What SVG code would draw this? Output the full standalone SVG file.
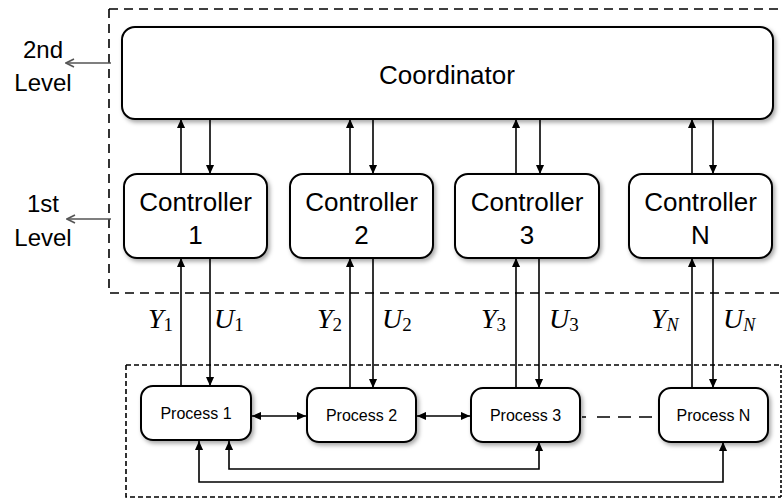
<svg xmlns="http://www.w3.org/2000/svg" width="783" height="500" viewBox="0 0 783 500">
  <style>
    .box { fill: #fff; stroke: #000; stroke-width: 2; filter: url(#shadow); }
    .big { font-family: "Liberation Sans", Arial, sans-serif; font-size: 26px; fill: #000; text-anchor: middle; }
    .small { font-family: "Liberation Sans", Arial, sans-serif; font-size: 16px; fill: #000; text-anchor: middle; }
    .math { font-family: "Liberation Serif", "Times New Roman", serif; font-style: italic; font-size: 28px; fill: #000; }
    .sub { font-style: normal; font-size: 19px; }
    .subi { font-size: 18px; }
    .link { stroke: #000; stroke-width: 1.6; fill: none; }
    .arr { marker-end: url(#head); }
    .level { stroke: #555; stroke-width: 1.6; fill: none; marker-end: url(#open); }
    .frame { fill: none; stroke: #000; stroke-width: 1.6; }
  </style>
  <defs>
    <filter id="shadow" x="-10%" y="-10%" width="125%" height="130%">
      <feDropShadow dx="2" dy="2.5" stdDeviation="2" flood-color="#000" flood-opacity="0.35"/>
    </filter>
    <marker id="head" viewBox="0 0 10 10" refX="10" refY="5" markerWidth="9" markerHeight="9" markerUnits="userSpaceOnUse" orient="auto-start-reverse">
      <path d="M0,0.5 L10,5 L0,9.5 Z" fill="#000"/>
    </marker>
    <marker id="open" viewBox="0 0 10 10" refX="9" refY="5" markerWidth="10" markerHeight="10" markerUnits="userSpaceOnUse" orient="auto">
      <path d="M1,1 L9,5 L1,9" fill="none" stroke="#555" stroke-width="1.6"/>
    </marker>
  </defs>

  <!-- hierarchy frames -->
  <g id="frames">
    <path class="frame" d="M109,9 H781 M109,9 V293 H781" stroke-dasharray="9 6"/>
    <path class="frame" d="M126,365 H781 M126,365 V497 H781" stroke-dasharray="5 3"/>
    <path class="frame" d="M781,365 V497" stroke-dasharray="3 2"/>
  </g>

  <!-- level labels -->
  <g id="level-labels">
    <text class="big" x="43" y="58" style="font-size:24px">2nd</text>
    <text class="big" x="43" y="91" style="font-size:24px">Level</text>
    <text class="big" x="43" y="212" style="font-size:24px">1st</text>
    <text class="big" x="43" y="246" style="font-size:24px">Level</text>
    <line class="level" x1="111" y1="63" x2="66" y2="63"/>
    <line class="level" x1="111" y1="219" x2="67" y2="219"/>
  </g>

  <!-- connectors -->
  <g id="connectors">
    <!-- controllers to/from coordinator -->
    <line class="link arr" x1="181" y1="174" x2="181" y2="119"/>
    <line class="link arr" x1="210" y1="119" x2="210" y2="174"/>
    <line class="link arr" x1="350" y1="174" x2="350" y2="119"/>
    <line class="link arr" x1="373" y1="119" x2="373" y2="174"/>
    <line class="link arr" x1="516" y1="174" x2="516" y2="119"/>
    <line class="link arr" x1="540" y1="119" x2="540" y2="174"/>
    <line class="link arr" x1="692" y1="174" x2="692" y2="119"/>
    <line class="link arr" x1="713" y1="119" x2="713" y2="174"/>
    <!-- processes to/from controllers -->
    <line class="link arr" x1="181" y1="386" x2="181" y2="258"/>
    <line class="link arr" x1="210" y1="258" x2="210" y2="386"/>
    <line class="link arr" x1="350" y1="388" x2="350" y2="258"/>
    <line class="link arr" x1="373" y1="258" x2="373" y2="388"/>
    <line class="link arr" x1="516" y1="388" x2="516" y2="258"/>
    <line class="link arr" x1="539" y1="258" x2="539" y2="388"/>
    <line class="link arr" x1="692" y1="388" x2="692" y2="258"/>
    <line class="link arr" x1="713" y1="258" x2="713" y2="388"/>
    <!-- process couplings -->
    <line class="link arr" x1="252" y1="416" x2="306" y2="416" marker-start="url(#head)"/>
    <line class="link arr" x1="417" y1="416" x2="470" y2="416" marker-start="url(#head)"/>
    <line class="link" x1="582" y1="417" x2="658" y2="417" stroke-dasharray="4 11 13 8 13 8 13 8"/>
    <path class="link arr" d="M539,442 V469 H229 V441" marker-start="url(#head)"/>
    <path class="link arr" d="M723,442 V482 H199 V441" marker-start="url(#head)"/>
  </g>

  <!-- signal labels -->
  <g id="signal-labels">
    <text class="math" x="148" y="328">Y<tspan class="sub" dy="3">1</tspan></text>
    <text class="math" x="214" y="328">U<tspan class="sub" dy="3">1</tspan></text>
    <text class="math" x="317" y="328">Y<tspan class="sub" dy="3">2</tspan></text>
    <text class="math" x="382" y="328">U<tspan class="sub" dy="3">2</tspan></text>
    <text class="math" x="481" y="328">Y<tspan class="sub" dy="3">3</tspan></text>
    <text class="math" x="549" y="328">U<tspan class="sub" dy="3">3</tspan></text>
    <text class="math" x="651" y="328">Y<tspan class="subi" dy="3">N</tspan></text>
    <text class="math" x="723" y="328">U<tspan class="subi" dy="3">N</tspan></text>
  </g>

  <!-- second level -->
  <g id="coordinator">
    <rect class="box" x="122" y="27" width="651" height="92" rx="13"/>
    <text class="big" x="447" y="84">Coordinator</text>
  </g>

  <!-- first level -->
  <g id="controller-1">
    <rect class="box" x="124" y="174" width="143" height="84" rx="13"/>
    <text class="big" x="195.5" y="211">Controller</text>
    <text class="big" x="195.5" y="244">1</text>
  </g>
  <g id="controller-2">
    <rect class="box" x="290" y="174" width="143" height="84" rx="13"/>
    <text class="big" x="361.5" y="211">Controller</text>
    <text class="big" x="361.5" y="244">2</text>
  </g>
  <g id="controller-3">
    <rect class="box" x="455" y="174" width="144" height="84" rx="13"/>
    <text class="big" x="527" y="211">Controller</text>
    <text class="big" x="527" y="244">3</text>
  </g>
  <g id="controller-n">
    <rect class="box" x="629" y="174" width="143" height="84" rx="13"/>
    <text class="big" x="700.5" y="211">Controller</text>
    <text class="big" x="700.5" y="244">N</text>
  </g>

  <!-- plant -->
  <g id="process-1">
    <rect class="box" x="141" y="386" width="110" height="54" rx="12"/>
    <text class="small" x="196" y="419">Process 1</text>
  </g>
  <g id="process-2">
    <rect class="box" x="307" y="388" width="109" height="54" rx="12"/>
    <text class="small" x="361.5" y="421">Process 2</text>
  </g>
  <g id="process-3">
    <rect class="box" x="471" y="388" width="109" height="54" rx="12"/>
    <text class="small" x="525.5" y="421">Process 3</text>
  </g>
  <g id="process-n">
    <rect class="box" x="659" y="388" width="109" height="54" rx="12"/>
    <text class="small" x="713.5" y="421">Process N</text>
  </g>
</svg>
